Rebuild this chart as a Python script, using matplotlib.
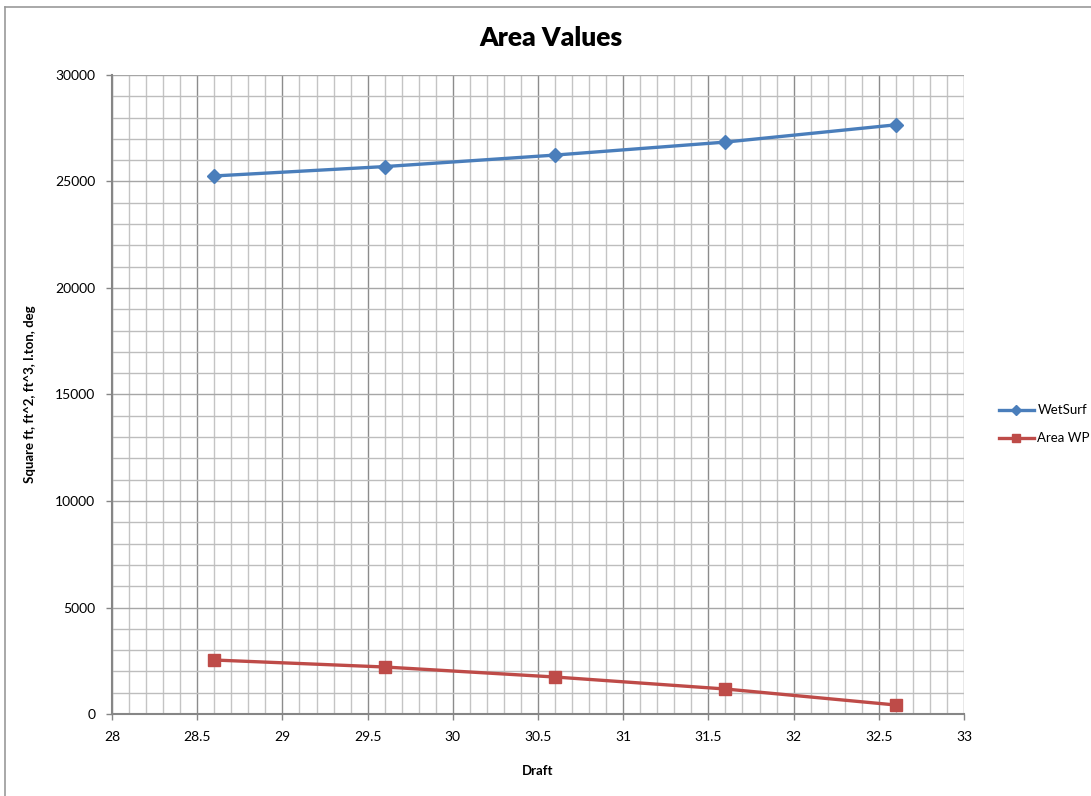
import matplotlib
matplotlib.use("Agg")
import matplotlib.pyplot as plt
from matplotlib.ticker import MultipleLocator
from matplotlib.lines import Line2D

plt.rcParams['font.family'] = ['Lato', 'DejaVu Sans']

draft = [28.6, 29.6, 30.6, 31.6, 32.6]
wet_surf = [25260, 25700, 26240, 26850, 27660]
area_wp = [2535, 2207, 1737, 1174, 423]

fig = plt.figure(figsize=(10.91, 7.96), dpi=100)
ax = fig.add_axes([0.1027, 0.103, 0.7809, 0.8028])

# chart frame
fig.add_artist(Line2D([5 / 1091, 5 / 1091], [0, 1 - 7 / 796], color='#9a9a9a', lw=1.2,
                      transform=fig.transFigure))
fig.add_artist(Line2D([5 / 1091, 1], [1 - 7 / 796, 1 - 7 / 796], color='#9a9a9a', lw=1.2,
                      transform=fig.transFigure))

ax.plot(draft, wet_surf, color='#4a7ebb', lw=2.4, marker='D', markersize=7.5,
        label='WetSurf', zorder=5)
ax.plot(draft, area_wp, color='#be4b48', lw=2.4, marker='s', markersize=8,
        label='Area WP', zorder=5)

ax.set_xlim(28, 33)
ax.set_ylim(0, 30000)
ax.xaxis.set_major_locator(MultipleLocator(0.5))
ax.xaxis.set_minor_locator(MultipleLocator(0.1))
ax.yaxis.set_major_locator(MultipleLocator(5000))
ax.yaxis.set_minor_locator(MultipleLocator(1000))
ax.xaxis.set_major_formatter(plt.FuncFormatter(lambda v, p: f'{v:g}'))

ax.grid(which='major', axis='x', color='#8c8c8c', lw=1.0)
ax.grid(which='minor', axis='x', color='#c4c4c4', lw=1.0)
ax.grid(which='major', axis='y', color='#a6a6a6', lw=1.0)
ax.grid(which='minor', axis='y', color='#bdbdbd', lw=1.0)
ax.set_axisbelow(True)

for s in ('top', 'right'):
    ax.spines[s].set_visible(False)
for s in ('left', 'bottom'):
    ax.spines[s].set_color('#868686')
    ax.spines[s].set_linewidth(1.5)

ax.tick_params(which='major', direction='out', length=4, color='#868686', width=1,
               labelsize=10, pad=8)
ax.tick_params(which='minor', length=0)

fig.text(551 / 1091, 1 - 38 / 796, 'Area Values', fontsize=19, fontweight='heavy',
         ha='center', va='center')
ax.set_xlabel('Draft', fontsize=9.5, fontweight='bold', labelpad=16)
ax.set_ylabel('Square ft, ft^2, ft^3, l.ton, deg', fontsize=9.5, fontweight='bold', labelpad=14)

fig.legend(loc='center left', bbox_to_anchor=(0.905, 0.467), frameon=False,
           fontsize=9.5, handlelength=2.6, labelspacing=1.2, handletextpad=0.3,
           markerscale=0.7)

fig.savefig('out.png', dpi=100, facecolor='white')
